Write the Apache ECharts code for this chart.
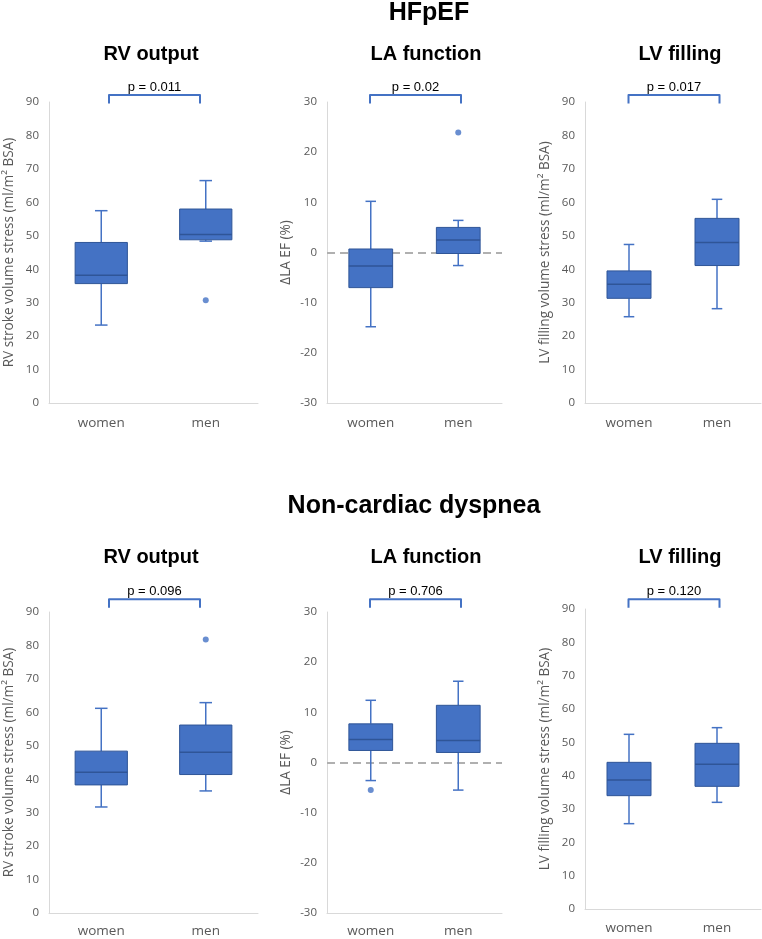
<!DOCTYPE html>
<html>
<head>
<meta charset="utf-8">
<script src="https://cdn.jsdelivr.net/npm/echarts@6/dist/echarts.min.js"></script>
<style>
  html, body { margin: 0; padding: 0; background: #ffffff; }
  #chart { width: 762px; height: 939px; }
</style>
</head>
<body>
<div id="chart"></div>
<script>
// ---------- DATA ----------
const categories = ['women', 'men'];
// Box values: [min whisker, Q1, median, Q3, max whisker] for women, men
const hfRV = [[23.3, 35.7, 38.2, 48.0, 57.5], [48.4, 48.8, 50.4, 58.0, 66.5]];
const hfRVOutliers = [[1, 30.7]];
const hfLA = [[-14.8, -7.0, -2.7, 0.7, 10.2], [-2.6, -0.2, 2.5, 5.0, 6.4]];
const hfLAOutliers = [[1, 23.9]];
const hfLV = [[25.8, 31.3, 35.5, 39.5, 47.4], [28.2, 41.1, 48.0, 55.2, 60.9]];
const hfLVOutliers = [];
const ncRV = [[31.7, 38.3, 42.1, 48.4, 61.2], [36.5, 41.4, 48.1, 56.2, 62.9]];
const ncRVOutliers = [[1, 81.8]];
const ncLA = [[-3.6, 2.4, 4.6, 7.7, 12.4], [-5.5, 2.0, 4.4, 11.4, 16.2]];
const ncLAOutliers = [[0, -5.5]];
const ncLV = [[25.6, 34.0, 38.7, 44.0, 52.4], [32.0, 36.8, 43.4, 49.7, 54.4]];
const ncLVOutliers = [];

const pValuesHF = ['p = 0.011', 'p = 0.02', 'p = 0.017'];
const pValuesNC = ['p = 0.096', 'p = 0.706', 'p = 0.120'];

const volumeTicks = [0, 10, 20, 30, 40, 50, 60, 70, 80, 90];
const laTicks = [-30, -20, -10, 0, 10, 20, 30];

const groupTitles = ['HFpEF', 'Non-cardiac dyspnea'];
const panelTitles = ['RV output', 'LA function', 'LV filling'];
const axisNames = ['RV stroke volume stress (ml/m\u00B2 BSA)', '\u0394LA EF (%)', 'LV filling volume stress (ml/m\u00B2 BSA)'];

// ---------- LAYOUT / STYLE ----------
const BLUE = '#4472C4';
const DARK = '#2F5597';
const GRAY = '#595959';
const AXIS = '#D9D9D9';

const layouts = [
  { left: 49,  top: 102, width: 209, height: 301, nameGap: 33, bracketGap: 7, labelMargin: 13 },
  { left: 327, top: 102, width: 175, height: 301, nameGap: 34, bracketGap: 7, labelMargin: 13 },
  { left: 585, top: 102, width: 176, height: 301, nameGap: 33, bracketGap: 7, labelMargin: 13 },
  { left: 49,  top: 612, width: 209, height: 301, nameGap: 33, bracketGap: 12.7, labelMargin: 11 },
  { left: 327, top: 612, width: 175, height: 301, nameGap: 34, bracketGap: 12.7, labelMargin: 11 },
  { left: 585, top: 609, width: 176, height: 300, nameGap: 33, bracketGap: 9.7, labelMargin: 12 }
];

const panels = [
  { box: hfRV, out: hfRVOutliers, p: pValuesHF[0], ticks: volumeTicks, name: axisNames[0], zero: false },
  { box: hfLA, out: hfLAOutliers, p: pValuesHF[1], ticks: laTicks, name: axisNames[1], zero: true },
  { box: hfLV, out: hfLVOutliers, p: pValuesHF[2], ticks: volumeTicks, name: axisNames[2], zero: false },
  { box: ncRV, out: ncRVOutliers, p: pValuesNC[0], ticks: volumeTicks, name: axisNames[0], zero: false },
  { box: ncLA, out: ncLAOutliers, p: pValuesNC[1], ticks: laTicks, name: axisNames[1], zero: true },
  { box: ncLV, out: ncLVOutliers, p: pValuesNC[2], ticks: volumeTicks, name: axisNames[2], zero: false }
];

function renderBox(params, api) {
  const cat = api.value(0);
  const band = api.size([1, 0])[0];
  const bw = band * 0.5;
  const cw = band * 0.12;
  const pMin = api.coord([cat, api.value(1)]);
  const pQ1 = api.coord([cat, api.value(2)]);
  const pMed = api.coord([cat, api.value(3)]);
  const pQ3 = api.coord([cat, api.value(4)]);
  const pMax = api.coord([cat, api.value(5)]);
  const x = pMed[0];
  const wStyle = { stroke: BLUE, lineWidth: 1.5 };
  return {
    type: 'group',
    children: [
      { type: 'line', shape: { x1: x, y1: pMax[1], x2: x, y2: pQ3[1] }, style: wStyle },
      { type: 'line', shape: { x1: x, y1: pQ1[1], x2: x, y2: pMin[1] }, style: wStyle },
      { type: 'line', shape: { x1: x - cw / 2, y1: pMax[1], x2: x + cw / 2, y2: pMax[1] }, style: wStyle },
      { type: 'line', shape: { x1: x - cw / 2, y1: pMin[1], x2: x + cw / 2, y2: pMin[1] }, style: wStyle },
      { type: 'rect', shape: { x: x - bw / 2, y: pQ3[1], width: bw, height: pQ1[1] - pQ3[1] },
        style: { fill: BLUE, stroke: DARK, lineWidth: 1 } },
      { type: 'line', shape: { x1: x - bw / 2, y1: pMed[1], x2: x + bw / 2, y2: pMed[1] },
        style: { stroke: DARK, lineWidth: 1.5 } }
    ]
  };
}

function makeBracketRenderer(label, gap) {
  return function (params, api) {
    const top = api.value(1);
    const a = api.coord([0, top]);
    const b = api.coord([1, top]);
    const cx = (a[0] + b[0]) / 2 + 1;
    const half = 45.5;
    const by = a[1] - gap;
    return {
      type: 'group',
      children: [
        { type: 'polyline',
          shape: { points: [[cx - half, by + 8.5], [cx - half, by], [cx + half, by], [cx + half, by + 8.5]] },
          style: { stroke: BLUE, lineWidth: 2, fill: null, lineJoin: 'round' } },
        { type: 'text',
          style: { text: label, x: cx, y: by - 8, align: 'center', verticalAlign: 'middle',
                   fill: '#000000', font: '13px "Liberation Sans", Arial, sans-serif' } }
      ]
    };
  };
}

const grid = [], xAxis = [], yAxis = [], series = [];
panels.forEach((pn, i) => {
  const L = layouts[i];
  grid.push({ left: L.left, top: L.top, width: L.width, height: L.height, containLabel: false });
  xAxis.push({
    type: 'category', gridIndex: i, data: categories,
    axisLine: { show: true, onZero: false, lineStyle: { color: AXIS, width: 1 } },
    axisTick: { show: false },
    splitLine: { show: false },
    axisLabel: { color: GRAY, fontSize: 13.5, fontFamily: '"Open Sans", sans-serif', margin: L.labelMargin }
  });
  const tmin = pn.ticks[0], tmax = pn.ticks[pn.ticks.length - 1];
  yAxis.push({
    type: 'value', gridIndex: i,
    min: tmin, max: tmax, interval: pn.ticks[1] - pn.ticks[0],
    axisLine: { show: true, lineStyle: { color: AXIS, width: 1 } },
    axisTick: { show: false },
    splitLine: { show: false },
    axisLabel: { color: GRAY, fontSize: 11.5, fontFamily: '"Open Sans", sans-serif', margin: 10 },
    name: pn.name, nameLocation: 'middle', nameGap: L.nameGap,
    nameTextStyle: { color: GRAY, fontSize: 13.6, fontFamily: '"Open Sans", sans-serif' }
  });
  series.push({
    type: 'custom', xAxisIndex: i, yAxisIndex: i, silent: true, clip: false,
    renderItem: renderBox,
    encode: { x: 0, y: [1, 2, 3, 4, 5] },
    data: pn.box.map((v, k) => [k].concat(v)),
    z: 3
  });
  const sc = {
    type: 'scatter', xAxisIndex: i, yAxisIndex: i, silent: true,
    symbol: 'circle', symbolSize: 6, itemStyle: { color: BLUE },
    data: pn.out, z: 4
  };
  if (pn.zero) {
    sc.markLine = {
      silent: true, symbol: ['none', 'none'], label: { show: false },
      lineStyle: { color: '#B0B0B0', type: [8, 5], width: 2 },
      data: [{ yAxis: 0 }],
      z: 1
    };
  }
  series.push(sc);
  series.push({
    type: 'custom', xAxisIndex: i, yAxisIndex: i, silent: true, clip: false,
    renderItem: makeBracketRenderer(pn.p, L.bracketGap),
    data: [[0, tmax]], z: 5
  });
});

const titleFont = (s) => 'bold ' + s + 'px "Liberation Sans", Arial, sans-serif';
const graphic = [
  { type: 'text', x: 429, y: 13, style: { text: groupTitles[0], font: titleFont(25), fill: '#000', align: 'center', verticalAlign: 'middle' } },
  { type: 'text', x: 414, y: 506, style: { text: groupTitles[1], font: titleFont(25), fill: '#000', align: 'center', verticalAlign: 'middle' } }
];
const titleX = [151, 426, 680];
[54.5, 557.5].forEach((ty) => {
  panelTitles.forEach((t, k) => {
    graphic.push({ type: 'text', x: titleX[k], y: ty,
      style: { text: t, font: titleFont(20), fill: '#000', align: 'center', verticalAlign: 'middle' } });
  });
});

const chart = echarts.init(document.getElementById('chart'), null, { renderer: 'canvas' });
chart.setOption({
  animation: false,
  backgroundColor: '#ffffff',
  grid: grid, xAxis: xAxis, yAxis: yAxis, series: series, graphic: graphic
});
</script>
</body>
</html>
